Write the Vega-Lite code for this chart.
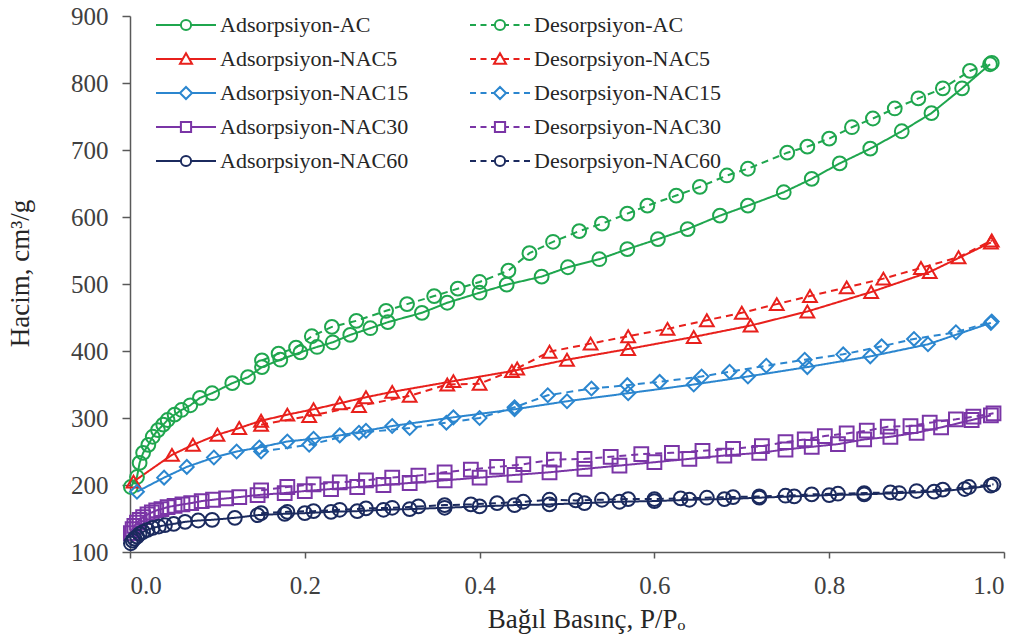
{
  "$schema": "https://vega.github.io/schema/vega-lite/v6.json",
  "width": 874,
  "height": 536,
  "autosize": {"type": "none"},
  "padding": {"left": 130, "top": 16, "right": 21, "bottom": 85},
  "background": "white",
  "config": {
    "view": {"stroke": null},
    "font": "'Times New Roman', 'Liberation Serif', serif",
    "axis": {
      "labelFont": "'Times New Roman', 'Liberation Serif', serif",
      "titleFont": "'Times New Roman', 'Liberation Serif', serif",
      "labelFontSize": 25,
      "titleFontSize": 27,
      "titleFontWeight": "normal",
      "labelColor": "#404040",
      "titleColor": "#262626",
      "domainColor": "#595959",
      "tickColor": "#595959",
      "domainWidth": 1.5,
      "tickWidth": 1.5,
      "grid": false
    },
    "legend": {
      "labelFont": "'Times New Roman', 'Liberation Serif', serif"
    }
  },
  "datasets": {
    "izoterm": [
      {"seri": "Adsorpsiyon-AC", "x": 0.001, "y": 197},
      {"seri": "Adsorpsiyon-AC", "x": 0.008, "y": 212},
      {"seri": "Adsorpsiyon-AC", "x": 0.011, "y": 233},
      {"seri": "Adsorpsiyon-AC", "x": 0.015, "y": 248},
      {"seri": "Adsorpsiyon-AC", "x": 0.021, "y": 260},
      {"seri": "Adsorpsiyon-AC", "x": 0.026, "y": 272},
      {"seri": "Adsorpsiyon-AC", "x": 0.032, "y": 282},
      {"seri": "Adsorpsiyon-AC", "x": 0.038, "y": 290},
      {"seri": "Adsorpsiyon-AC", "x": 0.043, "y": 297},
      {"seri": "Adsorpsiyon-AC", "x": 0.051, "y": 305},
      {"seri": "Adsorpsiyon-AC", "x": 0.059, "y": 312},
      {"seri": "Adsorpsiyon-AC", "x": 0.069, "y": 319},
      {"seri": "Adsorpsiyon-AC", "x": 0.08, "y": 330},
      {"seri": "Adsorpsiyon-AC", "x": 0.094, "y": 337},
      {"seri": "Adsorpsiyon-AC", "x": 0.117, "y": 352},
      {"seri": "Adsorpsiyon-AC", "x": 0.135, "y": 361},
      {"seri": "Adsorpsiyon-AC", "x": 0.151, "y": 376},
      {"seri": "Adsorpsiyon-AC", "x": 0.172, "y": 387},
      {"seri": "Adsorpsiyon-AC", "x": 0.195, "y": 398},
      {"seri": "Adsorpsiyon-AC", "x": 0.214, "y": 406},
      {"seri": "Adsorpsiyon-AC", "x": 0.232, "y": 413},
      {"seri": "Adsorpsiyon-AC", "x": 0.252, "y": 424},
      {"seri": "Adsorpsiyon-AC", "x": 0.275, "y": 434},
      {"seri": "Adsorpsiyon-AC", "x": 0.295, "y": 443},
      {"seri": "Adsorpsiyon-AC", "x": 0.334, "y": 457},
      {"seri": "Adsorpsiyon-AC", "x": 0.363, "y": 472},
      {"seri": "Adsorpsiyon-AC", "x": 0.4, "y": 487},
      {"seri": "Adsorpsiyon-AC", "x": 0.431, "y": 499},
      {"seri": "Adsorpsiyon-AC", "x": 0.471, "y": 511},
      {"seri": "Adsorpsiyon-AC", "x": 0.501, "y": 525},
      {"seri": "Adsorpsiyon-AC", "x": 0.537, "y": 537},
      {"seri": "Adsorpsiyon-AC", "x": 0.569, "y": 552},
      {"seri": "Adsorpsiyon-AC", "x": 0.604, "y": 567},
      {"seri": "Adsorpsiyon-AC", "x": 0.638, "y": 582},
      {"seri": "Adsorpsiyon-AC", "x": 0.675, "y": 602},
      {"seri": "Adsorpsiyon-AC", "x": 0.707, "y": 617},
      {"seri": "Adsorpsiyon-AC", "x": 0.748, "y": 637},
      {"seri": "Adsorpsiyon-AC", "x": 0.78, "y": 657},
      {"seri": "Adsorpsiyon-AC", "x": 0.812, "y": 680},
      {"seri": "Adsorpsiyon-AC", "x": 0.847, "y": 702},
      {"seri": "Adsorpsiyon-AC", "x": 0.883, "y": 728},
      {"seri": "Adsorpsiyon-AC", "x": 0.917, "y": 755},
      {"seri": "Adsorpsiyon-AC", "x": 0.952, "y": 792},
      {"seri": "Adsorpsiyon-AC", "x": 0.984, "y": 828},

      {"seri": "Desorpsiyon-AC", "x": 0.986, "y": 830},
      {"seri": "Desorpsiyon-AC", "x": 0.961, "y": 818},
      {"seri": "Desorpsiyon-AC", "x": 0.93, "y": 792},
      {"seri": "Desorpsiyon-AC", "x": 0.902, "y": 777},
      {"seri": "Desorpsiyon-AC", "x": 0.875, "y": 762},
      {"seri": "Desorpsiyon-AC", "x": 0.85, "y": 747},
      {"seri": "Desorpsiyon-AC", "x": 0.826, "y": 734},
      {"seri": "Desorpsiyon-AC", "x": 0.8, "y": 717},
      {"seri": "Desorpsiyon-AC", "x": 0.775, "y": 705},
      {"seri": "Desorpsiyon-AC", "x": 0.752, "y": 696},
      {"seri": "Desorpsiyon-AC", "x": 0.707, "y": 672},
      {"seri": "Desorpsiyon-AC", "x": 0.683, "y": 662},
      {"seri": "Desorpsiyon-AC", "x": 0.652, "y": 645},
      {"seri": "Desorpsiyon-AC", "x": 0.625, "y": 632},
      {"seri": "Desorpsiyon-AC", "x": 0.592, "y": 617},
      {"seri": "Desorpsiyon-AC", "x": 0.569, "y": 605},
      {"seri": "Desorpsiyon-AC", "x": 0.54, "y": 590},
      {"seri": "Desorpsiyon-AC", "x": 0.514, "y": 579},
      {"seri": "Desorpsiyon-AC", "x": 0.484, "y": 563},
      {"seri": "Desorpsiyon-AC", "x": 0.457, "y": 546},
      {"seri": "Desorpsiyon-AC", "x": 0.433, "y": 520},
      {"seri": "Desorpsiyon-AC", "x": 0.4, "y": 503},
      {"seri": "Desorpsiyon-AC", "x": 0.375, "y": 493},
      {"seri": "Desorpsiyon-AC", "x": 0.348, "y": 482},
      {"seri": "Desorpsiyon-AC", "x": 0.317, "y": 470},
      {"seri": "Desorpsiyon-AC", "x": 0.293, "y": 460},
      {"seri": "Desorpsiyon-AC", "x": 0.259, "y": 445},
      {"seri": "Desorpsiyon-AC", "x": 0.231, "y": 436},
      {"seri": "Desorpsiyon-AC", "x": 0.208, "y": 422},
      {"seri": "Desorpsiyon-AC", "x": 0.19, "y": 405},
      {"seri": "Desorpsiyon-AC", "x": 0.17, "y": 396},
      {"seri": "Desorpsiyon-AC", "x": 0.151, "y": 386},

      {"seri": "Adsorpsiyon-NAC5", "x": 0.004, "y": 205},
      {"seri": "Adsorpsiyon-NAC5", "x": 0.048, "y": 245},
      {"seri": "Adsorpsiyon-NAC5", "x": 0.072, "y": 260},
      {"seri": "Adsorpsiyon-NAC5", "x": 0.1, "y": 275},
      {"seri": "Adsorpsiyon-NAC5", "x": 0.125, "y": 285},
      {"seri": "Adsorpsiyon-NAC5", "x": 0.15, "y": 296},
      {"seri": "Adsorpsiyon-NAC5", "x": 0.18, "y": 305},
      {"seri": "Adsorpsiyon-NAC5", "x": 0.21, "y": 313},
      {"seri": "Adsorpsiyon-NAC5", "x": 0.24, "y": 322},
      {"seri": "Adsorpsiyon-NAC5", "x": 0.27, "y": 331},
      {"seri": "Adsorpsiyon-NAC5", "x": 0.3, "y": 339},
      {"seri": "Adsorpsiyon-NAC5", "x": 0.37, "y": 355},
      {"seri": "Adsorpsiyon-NAC5", "x": 0.437, "y": 370},
      {"seri": "Adsorpsiyon-NAC5", "x": 0.5, "y": 387},
      {"seri": "Adsorpsiyon-NAC5", "x": 0.57, "y": 403},
      {"seri": "Adsorpsiyon-NAC5", "x": 0.645, "y": 421},
      {"seri": "Adsorpsiyon-NAC5", "x": 0.71, "y": 438},
      {"seri": "Adsorpsiyon-NAC5", "x": 0.775, "y": 459},
      {"seri": "Adsorpsiyon-NAC5", "x": 0.848, "y": 488},
      {"seri": "Adsorpsiyon-NAC5", "x": 0.915, "y": 518},
      {"seri": "Adsorpsiyon-NAC5", "x": 0.985, "y": 562},

      {"seri": "Desorpsiyon-NAC5", "x": 0.986, "y": 565},
      {"seri": "Desorpsiyon-NAC5", "x": 0.948, "y": 540},
      {"seri": "Desorpsiyon-NAC5", "x": 0.905, "y": 524},
      {"seri": "Desorpsiyon-NAC5", "x": 0.862, "y": 508},
      {"seri": "Desorpsiyon-NAC5", "x": 0.82, "y": 495},
      {"seri": "Desorpsiyon-NAC5", "x": 0.778, "y": 482},
      {"seri": "Desorpsiyon-NAC5", "x": 0.74, "y": 470},
      {"seri": "Desorpsiyon-NAC5", "x": 0.7, "y": 457},
      {"seri": "Desorpsiyon-NAC5", "x": 0.66, "y": 446},
      {"seri": "Desorpsiyon-NAC5", "x": 0.615, "y": 433},
      {"seri": "Desorpsiyon-NAC5", "x": 0.57, "y": 422},
      {"seri": "Desorpsiyon-NAC5", "x": 0.527, "y": 411},
      {"seri": "Desorpsiyon-NAC5", "x": 0.48, "y": 399},
      {"seri": "Desorpsiyon-NAC5", "x": 0.443, "y": 374},
      {"seri": "Desorpsiyon-NAC5", "x": 0.4, "y": 351},
      {"seri": "Desorpsiyon-NAC5", "x": 0.363, "y": 350},
      {"seri": "Desorpsiyon-NAC5", "x": 0.32, "y": 333},
      {"seri": "Desorpsiyon-NAC5", "x": 0.262, "y": 318},
      {"seri": "Desorpsiyon-NAC5", "x": 0.205, "y": 303},
      {"seri": "Desorpsiyon-NAC5", "x": 0.15, "y": 290},

      {"seri": "Adsorpsiyon-NAC15", "x": 0.008, "y": 190},
      {"seri": "Adsorpsiyon-NAC15", "x": 0.039, "y": 211},
      {"seri": "Adsorpsiyon-NAC15", "x": 0.065, "y": 227},
      {"seri": "Adsorpsiyon-NAC15", "x": 0.096, "y": 241},
      {"seri": "Adsorpsiyon-NAC15", "x": 0.122, "y": 250},
      {"seri": "Adsorpsiyon-NAC15", "x": 0.148, "y": 256},
      {"seri": "Adsorpsiyon-NAC15", "x": 0.18, "y": 265},
      {"seri": "Adsorpsiyon-NAC15", "x": 0.21, "y": 269},
      {"seri": "Adsorpsiyon-NAC15", "x": 0.24, "y": 274},
      {"seri": "Adsorpsiyon-NAC15", "x": 0.27, "y": 281},
      {"seri": "Adsorpsiyon-NAC15", "x": 0.3, "y": 288},
      {"seri": "Adsorpsiyon-NAC15", "x": 0.37, "y": 301},
      {"seri": "Adsorpsiyon-NAC15", "x": 0.44, "y": 313},
      {"seri": "Adsorpsiyon-NAC15", "x": 0.5, "y": 325},
      {"seri": "Adsorpsiyon-NAC15", "x": 0.57, "y": 337},
      {"seri": "Adsorpsiyon-NAC15", "x": 0.645, "y": 350},
      {"seri": "Adsorpsiyon-NAC15", "x": 0.707, "y": 362},
      {"seri": "Adsorpsiyon-NAC15", "x": 0.775, "y": 376},
      {"seri": "Adsorpsiyon-NAC15", "x": 0.847, "y": 392},
      {"seri": "Adsorpsiyon-NAC15", "x": 0.913, "y": 410},
      {"seri": "Adsorpsiyon-NAC15", "x": 0.985, "y": 442},

      {"seri": "Desorpsiyon-NAC15", "x": 0.986, "y": 444},
      {"seri": "Desorpsiyon-NAC15", "x": 0.945, "y": 428},
      {"seri": "Desorpsiyon-NAC15", "x": 0.897, "y": 418},
      {"seri": "Desorpsiyon-NAC15", "x": 0.86, "y": 407},
      {"seri": "Desorpsiyon-NAC15", "x": 0.816, "y": 395},
      {"seri": "Desorpsiyon-NAC15", "x": 0.772, "y": 387},
      {"seri": "Desorpsiyon-NAC15", "x": 0.728, "y": 378},
      {"seri": "Desorpsiyon-NAC15", "x": 0.686, "y": 369},
      {"seri": "Desorpsiyon-NAC15", "x": 0.654, "y": 362},
      {"seri": "Desorpsiyon-NAC15", "x": 0.606, "y": 354},
      {"seri": "Desorpsiyon-NAC15", "x": 0.569, "y": 349},
      {"seri": "Desorpsiyon-NAC15", "x": 0.528, "y": 344},
      {"seri": "Desorpsiyon-NAC15", "x": 0.478, "y": 334},
      {"seri": "Desorpsiyon-NAC15", "x": 0.44, "y": 316},
      {"seri": "Desorpsiyon-NAC15", "x": 0.4, "y": 300},
      {"seri": "Desorpsiyon-NAC15", "x": 0.362, "y": 293},
      {"seri": "Desorpsiyon-NAC15", "x": 0.32, "y": 285},
      {"seri": "Desorpsiyon-NAC15", "x": 0.262, "y": 278},
      {"seri": "Desorpsiyon-NAC15", "x": 0.205, "y": 260},
      {"seri": "Desorpsiyon-NAC15", "x": 0.15, "y": 250},

      {"seri": "Adsorpsiyon-NAC30", "x": 0.001, "y": 128},
      {"seri": "Adsorpsiyon-NAC30", "x": 0.003, "y": 134},
      {"seri": "Adsorpsiyon-NAC30", "x": 0.005, "y": 139},
      {"seri": "Adsorpsiyon-NAC30", "x": 0.008, "y": 144},
      {"seri": "Adsorpsiyon-NAC30", "x": 0.011, "y": 148},
      {"seri": "Adsorpsiyon-NAC30", "x": 0.015, "y": 152},
      {"seri": "Adsorpsiyon-NAC30", "x": 0.02, "y": 156},
      {"seri": "Adsorpsiyon-NAC30", "x": 0.025, "y": 159},
      {"seri": "Adsorpsiyon-NAC30", "x": 0.03, "y": 162},
      {"seri": "Adsorpsiyon-NAC30", "x": 0.036, "y": 164},
      {"seri": "Adsorpsiyon-NAC30", "x": 0.043, "y": 167},
      {"seri": "Adsorpsiyon-NAC30", "x": 0.051, "y": 169},
      {"seri": "Adsorpsiyon-NAC30", "x": 0.06, "y": 171},
      {"seri": "Adsorpsiyon-NAC30", "x": 0.07, "y": 173},
      {"seri": "Adsorpsiyon-NAC30", "x": 0.082, "y": 176},
      {"seri": "Adsorpsiyon-NAC30", "x": 0.095, "y": 178},
      {"seri": "Adsorpsiyon-NAC30", "x": 0.11, "y": 180},
      {"seri": "Adsorpsiyon-NAC30", "x": 0.125, "y": 182},
      {"seri": "Adsorpsiyon-NAC30", "x": 0.146, "y": 185},
      {"seri": "Adsorpsiyon-NAC30", "x": 0.177, "y": 188},
      {"seri": "Adsorpsiyon-NAC30", "x": 0.2, "y": 191},
      {"seri": "Adsorpsiyon-NAC30", "x": 0.23, "y": 194},
      {"seri": "Adsorpsiyon-NAC30", "x": 0.26, "y": 197},
      {"seri": "Adsorpsiyon-NAC30", "x": 0.29, "y": 200},
      {"seri": "Adsorpsiyon-NAC30", "x": 0.32, "y": 203},
      {"seri": "Adsorpsiyon-NAC30", "x": 0.36, "y": 207},
      {"seri": "Adsorpsiyon-NAC30", "x": 0.4, "y": 211},
      {"seri": "Adsorpsiyon-NAC30", "x": 0.44, "y": 215},
      {"seri": "Adsorpsiyon-NAC30", "x": 0.48, "y": 219},
      {"seri": "Adsorpsiyon-NAC30", "x": 0.52, "y": 224},
      {"seri": "Adsorpsiyon-NAC30", "x": 0.56, "y": 229},
      {"seri": "Adsorpsiyon-NAC30", "x": 0.6, "y": 234},
      {"seri": "Adsorpsiyon-NAC30", "x": 0.64, "y": 239},
      {"seri": "Adsorpsiyon-NAC30", "x": 0.68, "y": 244},
      {"seri": "Adsorpsiyon-NAC30", "x": 0.72, "y": 248},
      {"seri": "Adsorpsiyon-NAC30", "x": 0.75, "y": 253},
      {"seri": "Adsorpsiyon-NAC30", "x": 0.78, "y": 257},
      {"seri": "Adsorpsiyon-NAC30", "x": 0.81, "y": 261},
      {"seri": "Adsorpsiyon-NAC30", "x": 0.84, "y": 268},
      {"seri": "Adsorpsiyon-NAC30", "x": 0.87, "y": 272},
      {"seri": "Adsorpsiyon-NAC30", "x": 0.9, "y": 278},
      {"seri": "Adsorpsiyon-NAC30", "x": 0.928, "y": 286},
      {"seri": "Adsorpsiyon-NAC30", "x": 0.963, "y": 297},
      {"seri": "Adsorpsiyon-NAC30", "x": 0.985, "y": 304},

      {"seri": "Desorpsiyon-NAC30", "x": 0.988, "y": 307},
      {"seri": "Desorpsiyon-NAC30", "x": 0.965, "y": 302},
      {"seri": "Desorpsiyon-NAC30", "x": 0.945, "y": 298},
      {"seri": "Desorpsiyon-NAC30", "x": 0.915, "y": 293},
      {"seri": "Desorpsiyon-NAC30", "x": 0.893, "y": 288},
      {"seri": "Desorpsiyon-NAC30", "x": 0.867, "y": 287},
      {"seri": "Desorpsiyon-NAC30", "x": 0.843, "y": 281},
      {"seri": "Desorpsiyon-NAC30", "x": 0.82, "y": 277},
      {"seri": "Desorpsiyon-NAC30", "x": 0.795, "y": 273},
      {"seri": "Desorpsiyon-NAC30", "x": 0.772, "y": 268},
      {"seri": "Desorpsiyon-NAC30", "x": 0.75, "y": 264},
      {"seri": "Desorpsiyon-NAC30", "x": 0.723, "y": 258},
      {"seri": "Desorpsiyon-NAC30", "x": 0.69, "y": 254},
      {"seri": "Desorpsiyon-NAC30", "x": 0.655, "y": 251},
      {"seri": "Desorpsiyon-NAC30", "x": 0.62, "y": 248},
      {"seri": "Desorpsiyon-NAC30", "x": 0.585, "y": 246},
      {"seri": "Desorpsiyon-NAC30", "x": 0.55, "y": 242},
      {"seri": "Desorpsiyon-NAC30", "x": 0.52, "y": 239},
      {"seri": "Desorpsiyon-NAC30", "x": 0.485, "y": 238},
      {"seri": "Desorpsiyon-NAC30", "x": 0.45, "y": 231},
      {"seri": "Desorpsiyon-NAC30", "x": 0.42, "y": 227},
      {"seri": "Desorpsiyon-NAC30", "x": 0.39, "y": 223},
      {"seri": "Desorpsiyon-NAC30", "x": 0.36, "y": 219},
      {"seri": "Desorpsiyon-NAC30", "x": 0.33, "y": 214},
      {"seri": "Desorpsiyon-NAC30", "x": 0.3, "y": 211},
      {"seri": "Desorpsiyon-NAC30", "x": 0.27, "y": 207},
      {"seri": "Desorpsiyon-NAC30", "x": 0.24, "y": 204},
      {"seri": "Desorpsiyon-NAC30", "x": 0.21, "y": 201},
      {"seri": "Desorpsiyon-NAC30", "x": 0.18, "y": 197},
      {"seri": "Desorpsiyon-NAC30", "x": 0.15, "y": 192},

      {"seri": "Adsorpsiyon-NAC60", "x": 0.001, "y": 113},
      {"seri": "Adsorpsiyon-NAC60", "x": 0.003, "y": 117},
      {"seri": "Adsorpsiyon-NAC60", "x": 0.005, "y": 120},
      {"seri": "Adsorpsiyon-NAC60", "x": 0.008, "y": 123},
      {"seri": "Adsorpsiyon-NAC60", "x": 0.011, "y": 127},
      {"seri": "Adsorpsiyon-NAC60", "x": 0.015, "y": 130},
      {"seri": "Adsorpsiyon-NAC60", "x": 0.02, "y": 133},
      {"seri": "Adsorpsiyon-NAC60", "x": 0.026, "y": 136},
      {"seri": "Adsorpsiyon-NAC60", "x": 0.033, "y": 138},
      {"seri": "Adsorpsiyon-NAC60", "x": 0.04, "y": 140},
      {"seri": "Adsorpsiyon-NAC60", "x": 0.05, "y": 142},
      {"seri": "Adsorpsiyon-NAC60", "x": 0.063, "y": 145},
      {"seri": "Adsorpsiyon-NAC60", "x": 0.078, "y": 147},
      {"seri": "Adsorpsiyon-NAC60", "x": 0.094, "y": 148},
      {"seri": "Adsorpsiyon-NAC60", "x": 0.12, "y": 151},
      {"seri": "Adsorpsiyon-NAC60", "x": 0.146, "y": 155},
      {"seri": "Adsorpsiyon-NAC60", "x": 0.177, "y": 157},
      {"seri": "Adsorpsiyon-NAC60", "x": 0.2, "y": 158},
      {"seri": "Adsorpsiyon-NAC60", "x": 0.23, "y": 160},
      {"seri": "Adsorpsiyon-NAC60", "x": 0.26, "y": 161},
      {"seri": "Adsorpsiyon-NAC60", "x": 0.29, "y": 163},
      {"seri": "Adsorpsiyon-NAC60", "x": 0.32, "y": 164},
      {"seri": "Adsorpsiyon-NAC60", "x": 0.36, "y": 166},
      {"seri": "Adsorpsiyon-NAC60", "x": 0.4, "y": 168},
      {"seri": "Adsorpsiyon-NAC60", "x": 0.44, "y": 170},
      {"seri": "Adsorpsiyon-NAC60", "x": 0.48, "y": 171},
      {"seri": "Adsorpsiyon-NAC60", "x": 0.52, "y": 173},
      {"seri": "Adsorpsiyon-NAC60", "x": 0.56, "y": 175},
      {"seri": "Adsorpsiyon-NAC60", "x": 0.6, "y": 176},
      {"seri": "Adsorpsiyon-NAC60", "x": 0.64, "y": 178},
      {"seri": "Adsorpsiyon-NAC60", "x": 0.68, "y": 179},
      {"seri": "Adsorpsiyon-NAC60", "x": 0.72, "y": 181},
      {"seri": "Adsorpsiyon-NAC60", "x": 0.76, "y": 183},
      {"seri": "Adsorpsiyon-NAC60", "x": 0.8, "y": 185},
      {"seri": "Adsorpsiyon-NAC60", "x": 0.84, "y": 186},
      {"seri": "Adsorpsiyon-NAC60", "x": 0.88, "y": 188},
      {"seri": "Adsorpsiyon-NAC60", "x": 0.92, "y": 190},
      {"seri": "Adsorpsiyon-NAC60", "x": 0.955, "y": 194},
      {"seri": "Adsorpsiyon-NAC60", "x": 0.985, "y": 199},

      {"seri": "Desorpsiyon-NAC60", "x": 0.988, "y": 201},
      {"seri": "Desorpsiyon-NAC60", "x": 0.96, "y": 197},
      {"seri": "Desorpsiyon-NAC60", "x": 0.93, "y": 193},
      {"seri": "Desorpsiyon-NAC60", "x": 0.9, "y": 191},
      {"seri": "Desorpsiyon-NAC60", "x": 0.87, "y": 189},
      {"seri": "Desorpsiyon-NAC60", "x": 0.84, "y": 188},
      {"seri": "Desorpsiyon-NAC60", "x": 0.81, "y": 187},
      {"seri": "Desorpsiyon-NAC60", "x": 0.78, "y": 186},
      {"seri": "Desorpsiyon-NAC60", "x": 0.75, "y": 184},
      {"seri": "Desorpsiyon-NAC60", "x": 0.72, "y": 183},
      {"seri": "Desorpsiyon-NAC60", "x": 0.69, "y": 182},
      {"seri": "Desorpsiyon-NAC60", "x": 0.66, "y": 181},
      {"seri": "Desorpsiyon-NAC60", "x": 0.63, "y": 180},
      {"seri": "Desorpsiyon-NAC60", "x": 0.6, "y": 179},
      {"seri": "Desorpsiyon-NAC60", "x": 0.57, "y": 179},
      {"seri": "Desorpsiyon-NAC60", "x": 0.54, "y": 178},
      {"seri": "Desorpsiyon-NAC60", "x": 0.51, "y": 177},
      {"seri": "Desorpsiyon-NAC60", "x": 0.48, "y": 178},
      {"seri": "Desorpsiyon-NAC60", "x": 0.45, "y": 175},
      {"seri": "Desorpsiyon-NAC60", "x": 0.42, "y": 173},
      {"seri": "Desorpsiyon-NAC60", "x": 0.39, "y": 171},
      {"seri": "Desorpsiyon-NAC60", "x": 0.36, "y": 170},
      {"seri": "Desorpsiyon-NAC60", "x": 0.33, "y": 168},
      {"seri": "Desorpsiyon-NAC60", "x": 0.3, "y": 166},
      {"seri": "Desorpsiyon-NAC60", "x": 0.27, "y": 165},
      {"seri": "Desorpsiyon-NAC60", "x": 0.24, "y": 163},
      {"seri": "Desorpsiyon-NAC60", "x": 0.21, "y": 161},
      {"seri": "Desorpsiyon-NAC60", "x": 0.18, "y": 160},
      {"seri": "Desorpsiyon-NAC60", "x": 0.15, "y": 158}
    ]
  },
  "data": {"name": "izoterm"},
  "encoding": {
    "x": {
      "field": "x",
      "type": "quantitative",
      "scale": {"domain": [0, 1], "nice": false, "zero": false},
      "axis": {
        "title": "Bağıl Basınç, P/Pₒ",
        "values": [0, 0.2, 0.4, 0.6, 0.8, 1],
        "format": ".1f",
        "tickSize": 6,
        "labelPadding": 15,
        "titlePadding": 8,
        "titleX": 456
      }
    },
    "y": {
      "field": "y",
      "type": "quantitative",
      "scale": {"domain": [100, 900], "nice": false, "zero": false},
      "axis": {
        "title": "Hacim, cm³/g",
        "values": [100, 200, 300, 400, 500, 600, 700, 800, 900],
        "tickSize": 8,
        "labelPadding": 14,
        "titlePadding": 36,
        "titleY": 257
      }
    }
  },
  "resolve": {"scale": {"color": "independent", "shape": "independent", "strokeDash": "independent"}},
  "layer": [
    {
      "mark": {"type": "line", "strokeWidth": 2},
      "encoding": {
        "color": {
          "field": "seri",
          "type": "nominal",
          "scale": {
            "domain": ["Adsorpsiyon-AC", "Adsorpsiyon-NAC5", "Adsorpsiyon-NAC15", "Adsorpsiyon-NAC30", "Adsorpsiyon-NAC60", "Desorpsiyon-AC", "Desorpsiyon-NAC5", "Desorpsiyon-NAC15", "Desorpsiyon-NAC30", "Desorpsiyon-NAC60"],
            "range": ["#1fa64e", "#e8201c", "#2b86cf", "#7a35a6", "#1b2a5e", "#1fa64e", "#e8201c", "#2b86cf", "#7a35a6", "#1b2a5e"]
          },
          "legend": null
        },
        "strokeDash": {
          "field": "seri",
          "type": "nominal",
          "scale": {
            "domain": ["Adsorpsiyon-AC", "Adsorpsiyon-NAC5", "Adsorpsiyon-NAC15", "Adsorpsiyon-NAC30", "Adsorpsiyon-NAC60", "Desorpsiyon-AC", "Desorpsiyon-NAC5", "Desorpsiyon-NAC15", "Desorpsiyon-NAC30", "Desorpsiyon-NAC60"],
            "range": [[1, 0], [1, 0], [1, 0], [1, 0], [1, 0], [7, 5], [7, 5], [7, 5], [7, 5], [7, 5]]
          },
          "legend": null
        }
      }
    },
    {
      "mark": {"type": "point", "filled": false, "size": 190, "strokeWidth": 2, "opacity": 1},
      "encoding": {
        "color": {
          "field": "seri",
          "type": "nominal",
          "scale": {
            "domain": ["Adsorpsiyon-AC", "Adsorpsiyon-NAC5", "Adsorpsiyon-NAC15", "Adsorpsiyon-NAC30", "Adsorpsiyon-NAC60", "Desorpsiyon-AC", "Desorpsiyon-NAC5", "Desorpsiyon-NAC15", "Desorpsiyon-NAC30", "Desorpsiyon-NAC60"],
            "range": ["#1fa64e", "#e8201c", "#2b86cf", "#7a35a6", "#1b2a5e", "#1fa64e", "#e8201c", "#2b86cf", "#7a35a6", "#1b2a5e"]
          },
          "legend": null
        },
        "shape": {
          "field": "seri",
          "type": "nominal",
          "scale": {
            "domain": ["Adsorpsiyon-AC", "Adsorpsiyon-NAC5", "Adsorpsiyon-NAC15", "Adsorpsiyon-NAC30", "Adsorpsiyon-NAC60", "Desorpsiyon-AC", "Desorpsiyon-NAC5", "Desorpsiyon-NAC15", "Desorpsiyon-NAC30", "Desorpsiyon-NAC60"],
            "range": ["circle", "triangle-up", "diamond", "square", "circle", "circle", "triangle-up", "diamond", "square", "circle"]
          },
          "legend": null
        }
      }
    },
    {
      "mark": {"type": "point", "filled": false, "size": 144, "strokeWidth": 2, "opacity": 0},
      "encoding": {
        "color": {
          "field": "seri",
          "type": "nominal",
          "scale": {
            "domain": ["Adsorpsiyon-AC", "Adsorpsiyon-NAC5", "Adsorpsiyon-NAC15", "Adsorpsiyon-NAC30", "Adsorpsiyon-NAC60", "Desorpsiyon-AC", "Desorpsiyon-NAC5", "Desorpsiyon-NAC15", "Desorpsiyon-NAC30", "Desorpsiyon-NAC60"],
            "range": ["#1fa64e", "#e8201c", "#2b86cf", "#7a35a6", "#1b2a5e", "#1fa64e", "#e8201c", "#2b86cf", "#7a35a6", "#1b2a5e"]
          },
          "legend": {
            "title": null,
            "orient": "none",
            "legendX": 45,
            "legendY": -2,
            "columns": 2,
            "padding": 0,
            "labelFontSize": 22,
            "labelColor": "#262626",
            "labelLimit": 400,
            "labelOffset": 23,
            "symbolSize": 144,
            "symbolStrokeWidth": 2,
            "symbolOpacity": 1,
            "symbolFillColor": "transparent",
            "rowPadding": 12,
            "columnPadding": 57
          }
        },
        "shape": {
          "field": "seri",
          "type": "nominal",
          "scale": {
            "domain": ["Adsorpsiyon-AC", "Adsorpsiyon-NAC5", "Adsorpsiyon-NAC15", "Adsorpsiyon-NAC30", "Adsorpsiyon-NAC60", "Desorpsiyon-AC", "Desorpsiyon-NAC5", "Desorpsiyon-NAC15", "Desorpsiyon-NAC30", "Desorpsiyon-NAC60"],
            "range": [
              "M-5,0L-0.85,0M0.85,0L5,0M0.85,0A0.85,0.85 0 1,1 -0.85,0A0.85,0.85 0 1,1 0.85,0",
              "M-5,0L-0.6,0M0.6,0L5,0M0,-0.95L1,0.8L-1,0.8Z",
              "M-5,0L-1,0M1,0L5,0M0,-1L1,0L0,1L-1,0Z",
              "M-5,0L-0.85,0M0.85,0L5,0M-0.85,-0.85L0.85,-0.85L0.85,0.85L-0.85,0.85Z",
              "M-5,0L-0.85,0M0.85,0L5,0M0.85,0A0.85,0.85 0 1,1 -0.85,0A0.85,0.85 0 1,1 0.85,0",
              "M-5,0L-4,0M-3.25,0L-2.25,0M-1.5,0L-0.85,0M0.85,0L1.5,0M2.25,0L3.25,0M4,0L5,0M0.85,0A0.85,0.85 0 1,1 -0.85,0A0.85,0.85 0 1,1 0.85,0",
              "M-5,0L-4,0M-3.25,0L-2.25,0M-1.5,0L-0.6,0M0.6,0L1.5,0M2.25,0L3.25,0M4,0L5,0M0,-0.95L1,0.8L-1,0.8Z",
              "M-5,0L-4,0M-3.25,0L-2.25,0M-1.5,0L-1,0M1,0L1.5,0M2.25,0L3.25,0M4,0L5,0M0,-1L1,0L0,1L-1,0Z",
              "M-5,0L-4,0M-3.25,0L-2.25,0M-1.5,0L-0.85,0M0.85,0L1.5,0M2.25,0L3.25,0M4,0L5,0M-0.85,-0.85L0.85,-0.85L0.85,0.85L-0.85,0.85Z",
              "M-5,0L-4,0M-3.25,0L-2.25,0M-1.5,0L-0.85,0M0.85,0L1.5,0M2.25,0L3.25,0M4,0L5,0M0.85,0A0.85,0.85 0 1,1 -0.85,0A0.85,0.85 0 1,1 0.85,0"
            ]
          },
          "legend": {
            "title": null,
            "orient": "none",
            "legendX": 45,
            "legendY": -2,
            "columns": 2,
            "padding": 0,
            "labelFontSize": 22,
            "labelColor": "#262626",
            "labelLimit": 400,
            "labelOffset": 23,
            "symbolSize": 144,
            "symbolStrokeWidth": 2,
            "symbolOpacity": 1,
            "symbolFillColor": "transparent",
            "rowPadding": 12,
            "columnPadding": 57
          }
        }
      }
    }
  ]
}
